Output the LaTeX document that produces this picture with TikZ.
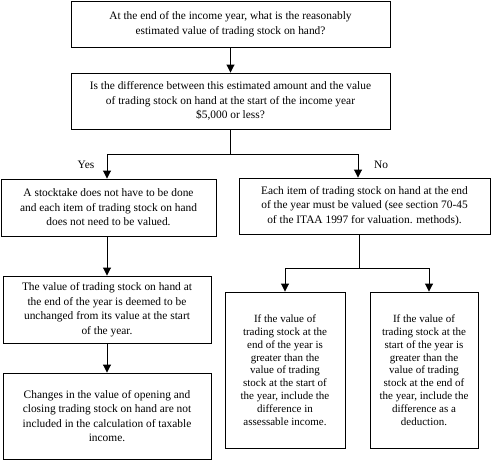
\documentclass[tikz,border=0pt]{standalone}
\usepackage{fontspec}
\setmainfont{Liberation Serif}
\usetikzlibrary{arrows.meta,calc}
\begin{document}
\begin{tikzpicture}[x=1pt,y=-1pt,
  box/.style={draw=black,line width=0.9pt,inner sep=0pt,align=center,
    font=\fontsize{11.4}{14.5}\selectfont},
  smallbox/.style={box,font=\fontsize{11}{12.8}\selectfont},
  arr/.style={line width=0.9pt,-{Triangle[width=8pt,length=8pt]}},
  ln/.style={line width=0.9pt},
  lbl/.style={font=\fontsize{11.4}{12}\selectfont,inner sep=0pt}]
\useasboundingbox (0,0) rectangle (492,460);
\node[box,minimum width=319pt,minimum height=46pt] (b1) at (230.5,24)
  {At the end of the income year, what is the reasonably\\estimated value of trading stock on hand?};
\node[box,minimum width=319pt,minimum height=56pt] (b2) at (230.5,101)
  {Is the difference between this estimated amount and the value\\of trading stock on hand at the start of the income year\\\$5,000 or less?};
\node[box,minimum width=215pt,minimum height=57pt] (yes) at (108.5,207.5)
  {A stocktake does not have to be done\\and each item of trading stock on hand\\does not need to be valued.};
\node[box,minimum width=251pt,minimum height=56pt] (no) at (364.5,206)
  {Each item of trading stock on hand at the end\\of the year must be valued (see section 70-45\\of the ITAA 1997 for valuation. methods).};
\node[box,minimum width=208pt,minimum height=67pt] (v1) at (107,309.5)
  {The value of trading stock on hand at\\the end of the year is deemed to be\\unchanged from its value at the start\\of the year.};
\node[box,minimum width=208pt,minimum height=86pt] (v2) at (107,416)
  {Changes in the value of opening and\\closing trading stock on hand are not\\included in the calculation of taxable\\income.};
\node[smallbox,minimum width=120pt,minimum height=156pt] (bl) at (285,370)
  {If the value of\\trading stock at the\\end of the year is\\greater than the\\value of trading\\stock at the start of\\the year, include the\\difference in\\assessable income.};
\node[smallbox,minimum width=108pt,minimum height=156pt] (br) at (424,370)
  {If the value of\\trading stock at the\\start of the year is\\greater than the\\value of trading\\stock at the end of\\the year, include the\\difference as a\\deduction.};
\node[lbl] (yl) at (86,165) {Yes};
\node[lbl] (nl) at (381,165) {No};
\draw[arr] (b1.south) -- (b2.north);
\draw[ln] (b2.south) -- ++(0,25) coordinate (s1);
\coordinate (ytop) at ([xshift=-1.5pt]yes.north);
\coordinate (ntop) at ([xshift=-6.5pt]no.north);
\draw[arr] (s1) -| (ytop);
\draw[arr] (s1) -| (ntop);
\draw[arr] (v1.north |- yes.south) -- (v1.north);
\draw[arr] (v1.south) -- (v2.north);
\coordinate (nbot) at ([xshift=-5.5pt]no.south);
\draw[ln] (nbot) -- ++(0,34) coordinate (s2);
\coordinate (brtop) at ([xshift=5pt]br.north);
\draw[arr] (s2) -| (bl.north);
\draw[arr] (s2) -| (brtop);
\end{tikzpicture}
\end{document}
